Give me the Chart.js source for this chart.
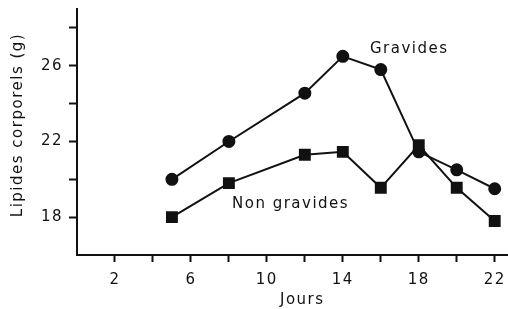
<!DOCTYPE html>
<html>
<head>
<meta charset="utf-8">
<script src="https://cdn.jsdelivr.net/npm/chart.js@4"></script>
<style>
  body { margin: 0; background: #fff; }
  #wrap { width: 508px; height: 309px; }
</style>
</head>
<body>
<div id="wrap"><canvas id="LipidChart"></canvas></div>
<script>
// days (x) and body lipids in g (y)
const daysGravides = [5, 8, 12, 14, 16, 18, 20, 22];
const lipidesGravides = [20.0, 22.0, 24.55, 26.5, 25.8, 21.45, 20.5, 19.5];
const daysNonGravides = [5, 8, 12, 14, 16, 18, 20, 22];
const lipidesNonGravides = [18.0, 19.8, 21.3, 21.45, 19.55, 21.8, 19.55, 17.8];
const xLabels = [2, 6, 10, 14, 18, 22];
const yLabels = [18, 22, 26];

const ctx = document.getElementById("LipidChart");

function toPoints(xs, ys) {
  return xs.map(function (x, i) { return { x: x, y: ys[i] }; });
}

// text labels on the plot + axis titles
const textPlugin = {
  id: "textPlugin",
  beforeDraw: function (chart) {
    chart.ctx.letterSpacing = "1.5px";
  },
  afterDraw: function (chart) {
    const c = chart.ctx;
    c.save();
    c.fillStyle = "#111";
    c.font = "15px 'DejaVu Sans'";
    c.letterSpacing = "1.5px";
    c.textAlign = "left";
    c.textBaseline = "alphabetic";
    c.fillText("Gravides", 370, 53);
    c.fillText("Non gravides", 232, 208);
    c.fillText("Jours", 280, 304);
    c.translate(22, 125);
    c.rotate(-Math.PI / 2);
    c.textAlign = "center";
    c.fillText("Lipides corporels (g)", 0, 0);
    c.restore();
    c.letterSpacing = "0px";
  },
};

new Chart(ctx, {
  type: "line",
  data: {
    datasets: [
      {
        label: "Gravides",
        data: toPoints(daysGravides, lipidesGravides),
        borderColor: "#111",
        backgroundColor: "#111",
        borderWidth: 2,
        pointStyle: "circle",
        pointRadius: 5.5,
        tension: 0,
      },
      {
        label: "Non gravides",
        data: toPoints(daysNonGravides, lipidesNonGravides),
        borderColor: "#111",
        backgroundColor: "#111",
        borderWidth: 2,
        pointStyle: "rect",
        pointRadius: 7,
        tension: 0,
      },
    ],
  },
  options: {
    responsive: true,
    maintainAspectRatio: false,
    animation: false,
    layout: { autoPadding: false, padding: { top: 9, right: 0, left: 0, bottom: 0 } },
    plugins: { legend: { display: false }, tooltip: { enabled: false } },
    scales: {
      x: {
        type: "linear",
        min: 0,
        max: 22.7,
        afterBuildTicks: function (scale) {
          let t = [];
          for (let v = 2; v <= 22; v += 2) t.push({ value: v });
          scale.ticks = t;
        },
        afterFit: function (scale) {
          scale.height = 54;
          scale.paddingLeft = 0;
          scale.paddingRight = 0;
        },
        border: { color: "#111", width: 2 },
        grid: { drawOnChartArea: false, tickLength: 7, tickColor: "#111", tickWidth: 2 },
        ticks: {
          color: "#111",
          font: { family: "DejaVu Sans", size: 15 },
          padding: 9,
          maxRotation: 0,
          autoSkip: false,
          callback: function (v) { return xLabels.includes(v) ? String(v) : ""; },
        },
      },
      y: {
        min: 16,
        max: 29,
        afterBuildTicks: function (scale) {
          let t = [];
          for (let v = 18; v <= 28; v += 2) t.push({ value: v });
          scale.ticks = t;
        },
        afterFit: function (scale) {
          scale.width = 77;
          scale.paddingTop = 0;
          scale.paddingBottom = 0;
        },
        border: { color: "#111", width: 2 },
        grid: { drawOnChartArea: false, tickLength: 8, tickColor: "#111", tickWidth: 2 },
        ticks: {
          color: "#111",
          font: { family: "DejaVu Sans", size: 15 },
          padding: 6,
          autoSkip: false,
          callback: function (v) { return yLabels.includes(v) ? String(v) : ""; },
        },
      },
    },
  },
  plugins: [textPlugin],
});
</script>
</body>
</html>
